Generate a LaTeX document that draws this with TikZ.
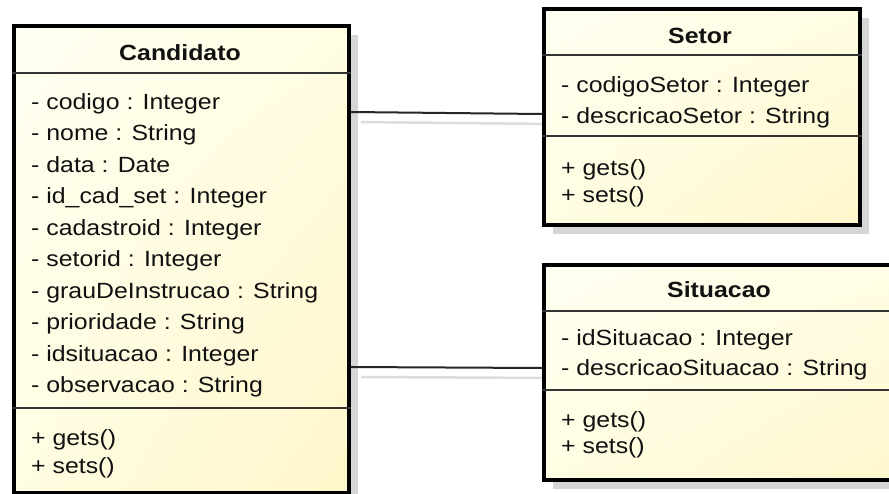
\documentclass[tikz,border=0pt]{standalone}
\usepackage{fontspec}
\setmainfont{Liberation Sans}[FakeStretch=1.13]
\usetikzlibrary{shadows,backgrounds,shadings}
\definecolor{fillA}{HTML}{FFFFF2}
\definecolor{fillB}{HTML}{FFFDE2}
\definecolor{fillC}{HTML}{FFF6CA}
\definecolor{txt}{HTML}{111111}
\definecolor{shd}{HTML}{D6D6D6}
\definecolor{lshd}{HTML}{DDDDDD}
\tikzset{
  umlbox/.style={draw=black, line width=4pt, inner sep=0pt, anchor=north west, shade,
    upper left=fillA, upper right=fillB, lower left=fillB, lower right=fillC,
    drop shadow={shadow xshift=9pt, shadow yshift=-9pt, fill=shd, opacity=1}},
  divider/.style={draw=black!80, line width=1.8pt},
  conn/.style={draw=black!85, line width=2pt},
  connshadow/.style={draw=lshd, line width=2.5pt},
  title/.style={font=\fontsize{22}{26}\selectfont\bfseries, text=txt, anchor=base, inner sep=0pt},
  attr/.style={font=\fontsize{22}{26}\selectfont, text=txt, anchor=base west, inner sep=0pt}
}
\begin{document}
\begin{tikzpicture}[x=1pt,y=-1pt]
\useasboundingbox (0,0) rectangle (889,493);
\clip (0,0) rectangle (889,493);

% boxes
\node[umlbox, minimum width=335pt, minimum height=467pt] (cand) at (12,24) {};
\node[umlbox, minimum width=316pt, minimum height=216pt] (setor) at (542,7) {};
\node[umlbox, minimum width=400pt, minimum height=215pt] (sit) at (542,263) {};

% background and connector shadows
\begin{pgfonlayer}{background}
\fill[white] (0,0) rectangle (889,493);
\draw[connshadow, transform canvas={shift={(10pt,-10pt)}}] (cand.east |- 0,112) -- (setor.west |- 0,114);
\draw[connshadow, transform canvas={shift={(10pt,-10pt)}}] (cand.east |- 0,367) -- (sit.west |- 0,368);
\end{pgfonlayer}

% dividers
\draw[divider] (cand.west |- 0,73) -- (cand.east |- 0,73);
\draw[divider] (cand.west |- 0,408) -- (cand.east |- 0,408);
\draw[divider] (setor.west |- 0,55) -- (setor.east |- 0,55);
\draw[divider] (setor.west |- 0,136) -- (setor.east |- 0,136);
\draw[divider] (sit.west |- 0,311) -- (sit.east |- 0,311);
\draw[divider] (sit.west |- 0,390) -- (sit.east |- 0,390);

% connectors
\draw[conn] (cand.east |- 0,112) -- (setor.west |- 0,114);
\draw[conn] (cand.east |- 0,367) -- (sit.west |- 0,368);

% Candidato
\node[title] (candT) at (180,60) {Candidato};
\node[attr] (c1) at (31,109) {- codigo : Integer};
\node[attr] (c2) at (31,140.5) {- nome : String};
\node[attr] (c3) at (31,172) {- data : Date};
\node[attr] (c4) at (31,203.5) {- id\_cad\_set : Integer};
\node[attr] (c5) at (31,235) {- cadastroid : Integer};
\node[attr] (c6) at (31,266.5) {- setorid : Integer};
\node[attr] (c7) at (31,298) {- grauDeInstrucao : String};
\node[attr] (c8) at (31,329.5) {- prioridade : String};
\node[attr] (c9) at (31,361) {- idsituacao : Integer};
\node[attr] (c10) at (31,392.5) {- observacao : String};
\node[attr] (c11) at (31,445) {+ gets()};
\node[attr] (c12) at (31,473) {+ sets()};

% Setor
\node[title] (setT) at (700,43) {Setor};
\node[attr] (s1) at (561,92) {- codigoSetor : Integer};
\node[attr] (s2) at (561,123) {- descricaoSetor : String};
\node[attr] (s3) at (561,175) {+ gets()};
\node[attr] (s4) at (561,202) {+ sets()};

% Situacao
\node[title] (sitT) at (719,297) {Situacao};
\node[attr] (t1) at (561,345) {- idSituacao : Integer};
\node[attr] (t2) at (561,375) {- descricaoSituacao : String};
\node[attr] (t3) at (561,427) {+ gets()};
\node[attr] (t4) at (561,453) {+ sets()};
\end{tikzpicture}
\end{document}
